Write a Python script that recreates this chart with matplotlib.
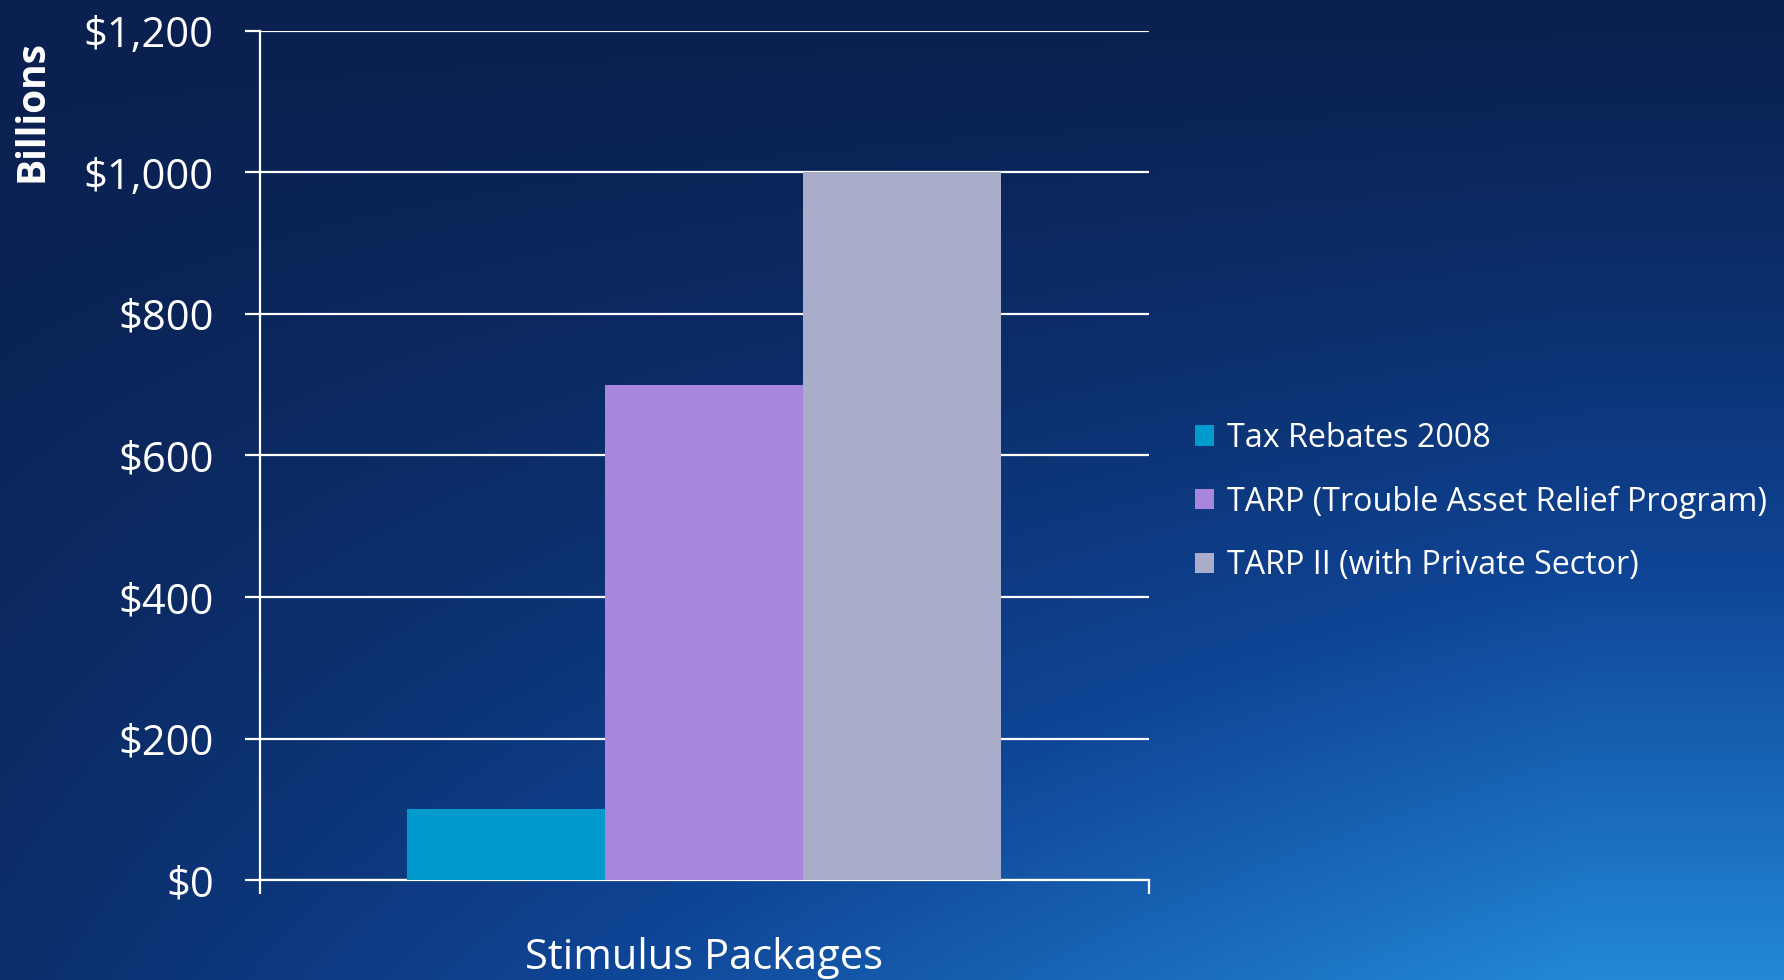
import numpy as np
import matplotlib
matplotlib.use("Agg")
import matplotlib.pyplot as plt
from matplotlib.patches import Patch
from matplotlib.colors import to_rgb

plt.rcParams['font.family'] = ['Open Sans', 'DejaVu Sans']

# data
packages = ["Tax Rebates 2008", "TARP (Trouble Asset Relief Program)", "TARP II (with Private Sector)"]
billions = [100, 700, 1000]
colors = ["#009bcc", "#a886de", "#a9adc9"]
category = "Stimulus Packages"
yticks = [0, 200, 400, 600, 800, 1000, 1200]
ytick_labels = ["$0", "$200", "$400", "$600", "$800", "$1,000", "$1,200"]

W, H = 1784, 980
fig = plt.figure(figsize=(W / 100, H / 100), dpi=100)

# night-sky style background gradient
bg = fig.add_axes([0, 0, 1, 1], zorder=-10)
yy, xx = np.mgrid[0:1:200j, 0:1:360j]
w = np.clip(yy, 0, 1) ** 1.3 * np.clip(0.2 + 0.9 * xx, 0, 1)
dark = np.array(to_rgb("#0a2050"))
mid = np.array(to_rgb("#0f4596"))
light = np.array(to_rgb("#2388d8"))
w2 = w[..., None]
img = np.where(w2 < 0.5,
               dark * (1 - 2 * w2) + mid * (2 * w2),
               mid * (2 - 2 * w2) + light * (2 * w2 - 1))
bg.imshow(img, aspect='auto', extent=[0, 1, 1, 0], interpolation='bilinear')
bg.axis('off')

ax = fig.add_axes([259.5 / W, 1 - 880 / H, (1149 - 259.5) / W, (880 - 31) / H])
ax.set_facecolor('none')

x = np.arange(len(packages)) - 1
for xi, v, c in zip(x, billions, colors):
    ax.bar(xi, v, width=1.0, color=c, zorder=3)

half = 889.5 / 198 / 2
ax.set_xlim(-half, half)
ax.set_ylim(0, 1200)

ax.set_yticks(yticks)
ax.set_yticklabels(ytick_labels)
ax.yaxis.grid(True, color='white', linewidth=1.6, zorder=1)
ax.set_axisbelow(True)
ax.tick_params(axis='y', colors='white', labelsize=30, length=11, width=1.6, pad=22, direction='out')

ax.set_xticks([0])
ax.set_xticklabels([category])
ax.tick_params(axis='x', which='major', length=0, labelsize=30, labelcolor='white', pad=41)
ax.set_xticks([-half, half], minor=True)
ax.tick_params(axis='x', which='minor', length=10, width=1.6, color='white', direction='out')

for s in ['top', 'right']:
    ax.spines[s].set_visible(False)
for s in ['left', 'bottom']:
    ax.spines[s].set_color('white')
    ax.spines[s].set_linewidth(1.6)

ax.set_ylabel("Billions", color='white', fontsize=28, fontweight='bold')
ax.yaxis.set_label_coords(-(259.5 - 52) / 889.5, (880 - 111) / 849)

handles = [Patch(facecolor=c, edgecolor='none') for c in colors]
leg = fig.legend(handles, packages, loc='center left', bbox_to_anchor=(1195 / W, 1 - 502 / H),
                 frameon=False, fontsize=23.2, handlelength=0.6, handleheight=0.6,
                 handletextpad=0.4, labelspacing=0.95, borderpad=0, borderaxespad=0)
for t in leg.get_texts():
    t.set_color('white')

fig.savefig("out.png", dpi=100)
